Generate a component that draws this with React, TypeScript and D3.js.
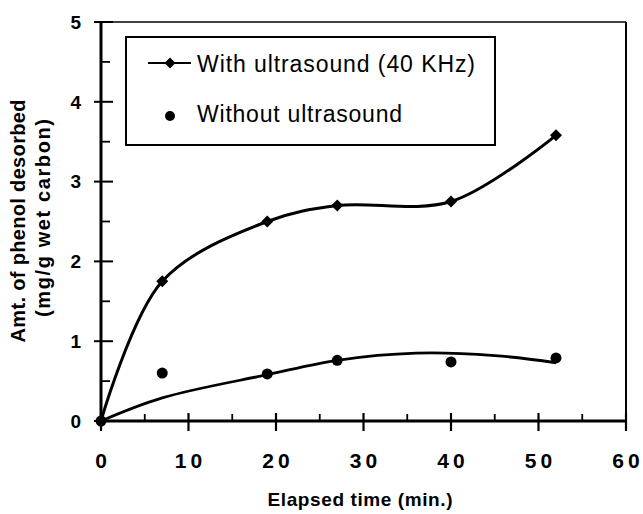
import * as d3 from 'd3';

// elapsed time (min) and amount desorbed (mg/g wet carbon)
const timeWith = [0, 7, 19, 27, 40, 52];
const amtWith = [0, 1.75, 2.5, 2.7, 2.75, 3.58];

const timeWithout = [0, 7, 19, 27, 40, 52];
const amtWithout = [0, 0.6, 0.59, 0.76, 0.74, 0.79];

// fitted trend line drawn through the "without" points
const fitTime = [0, 7, 19, 27, 36, 45, 52];
const fitAmt = [0, 0.29, 0.58, 0.76, 0.85, 0.82, 0.73];

const xMajor = [0, 10, 20, 30, 40, 50, 60];
const xMinor = [5, 15, 25, 35, 45, 55];
const yMajor = [0, 1, 2, 3, 4, 5];
const yMinor = [0.5, 1.5, 2.5, 3.5, 4.5];

const legendLabels = ['With ultrasound (40 KHz)', 'Without ultrasound'];

const FONT = '"Liberation Sans", Arial, Helvetica, sans-serif';

const App = () => {
  const width = 643;
  const height = 514;

  const x = d3.scaleLinear().domain([0, 60]).range([101, 626]);
  const y = d3.scaleLinear().domain([0, 5]).range([421, 22]);

  const withPts = timeWith.map((t, i) => [t, amtWith[i]] as [number, number]);
  const withoutPts = timeWithout.map((t, i) => [t, amtWithout[i]] as [number, number]);
  const fitPts = fitTime.map((t, i) => [t, fitAmt[i]] as [number, number]);

  const line = d3
    .line<[number, number]>()
    .x((d) => x(d[0]))
    .y((d) => y(d[1]))
    .curve(d3.curveCatmullRom.alpha(0.5));

  const diamond = (cx: number, cy: number, r: number) =>
    `M${cx},${cy - r}L${cx + r},${cy}L${cx},${cy + r}L${cx - r},${cy}Z`;

  const x0 = x.range()[0];
  const x1 = x.range()[1];
  const yb = y.range()[0];
  const yt = y.range()[1];

  return (
    <svg
      width={width}
      height={height}
      style={{ position: 'fixed', left: 0, top: 0, background: '#fff' }}
      fontFamily={FONT}
    >
      <rect width={width} height={height} fill="#fff" />

      {/* frame: top and right thin */}
      <line x1={94} x2={x1} y1={yt} y2={yt} stroke="#000" strokeWidth={1.6} />
      <line x1={x1} x2={x1} y1={yt} y2={yb + 10} stroke="#000" strokeWidth={2} />

      {/* y ticks */}
      {yMajor.map((v) => (
        <line key={`ym${v}`} x1={x0 - 7} x2={x0 + 12} y1={y(v)} y2={y(v)} stroke="#000" strokeWidth={2} />
      ))}
      {yMinor.map((v) => (
        <line key={`yn${v}`} x1={x0} x2={x0 + 9} y1={y(v)} y2={y(v)} stroke="#000" strokeWidth={1.8} />
      ))}
      {/* x ticks */}
      {xMajor.map((v) => (
        <line key={`xm${v}`} x1={x(v)} x2={x(v)} y1={yb - 8} y2={yb + 10} stroke="#000" strokeWidth={2.2} />
      ))}
      {xMinor.map((v) => (
        <line key={`xn${v}`} x1={x(v)} x2={x(v)} y1={yb - 7} y2={yb} stroke="#000" strokeWidth={1.8} />
      ))}

      {/* axes */}
      <line x1={x0} x2={x0} y1={yt} y2={yb + 4} stroke="#000" strokeWidth={3} />
      <line x1={x0 - 4} x2={x1} y1={yb} y2={yb} stroke="#000" strokeWidth={3} />

      {/* tick labels */}
      {yMajor.map((v) => (
        <text key={`yl${v}`} x={81} y={y(v)} dy="0.36em" textAnchor="end" fontSize={19} fontWeight="bold">
          {v}
        </text>
      ))}
      {xMajor.map((v) => (
        <text
          key={`xl${v}`}
          x={x(v) + (v === 0 ? 0 : 2)}
          y={468}
          textAnchor="middle"
          fontSize={21}
          fontWeight="bold"
          letterSpacing={v === 0 ? 0 : 4}
        >
          {v}
        </text>
      ))}

      {/* axis titles */}
      <text x={360} y={506} textAnchor="middle" fontSize={19} fontWeight="bold" textLength={185} lengthAdjust="spacing">
        Elapsed time (min.)
      </text>
      <g transform="translate(25,221) rotate(-90)">
        <text x={0} y={0} textAnchor="middle" fontSize={20} fontWeight="bold" textLength={243} lengthAdjust="spacing">
          Amt. of phenol desorbed
        </text>
      </g>
      <g transform="translate(50,218) rotate(-90)">
        <text x={0} y={0} textAnchor="middle" fontSize={20} fontWeight="bold" textLength={198} lengthAdjust="spacing">
          (mg/g wet carbon)
        </text>
      </g>

      {/* series lines */}
      <path d={line(withPts) || ''} fill="none" stroke="#000" strokeWidth={3} />
      <path d={line(fitPts) || ''} fill="none" stroke="#000" strokeWidth={2.8} />

      {/* markers */}
      {withPts.map((d, i) => (
        <path key={`dw${i}`} d={diamond(x(d[0]), y(d[1]), 6)} fill="#000" />
      ))}
      {withoutPts.map((d, i) => (
        <circle key={`cw${i}`} cx={x(d[0])} cy={y(d[1])} r={5.5} fill="#000" />
      ))}

      {/* legend */}
      <rect x={126} y={37} width={369} height={108} fill="#fff" stroke="#000" strokeWidth={2} />
      <line x1={148} x2={191} y1={63} y2={63} stroke="#000" strokeWidth={2} />
      <path d={diamond(170, 63, 5.5)} fill="#000" />
      <text x={197} y={72} fontSize={23} textLength={278} lengthAdjust="spacing">
        {legendLabels[0]}
      </text>
      <circle cx={170} cy={116} r={5} fill="#000" />
      <text x={197} y={122} fontSize={23} textLength={205} lengthAdjust="spacing">
        {legendLabels[1]}
      </text>
    </svg>
  );
};

export default App;
